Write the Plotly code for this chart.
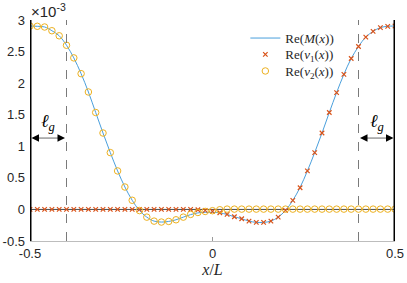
import numpy as np
import plotly.graph_objects as go

x_vals = [round(-0.5 + 0.02 * i, 2) for i in range(51)]

M_vals = [2.905, 2.90, 2.89, 2.83, 2.75, 2.60, 2.40, 2.15, 1.86, 1.535,
          1.21, 0.90, 0.61, 0.355, 0.145, -0.018, -0.122, -0.185, -0.20, -0.19,
          -0.164, -0.122, -0.082, -0.055, -0.045, -0.045,
          -0.055, -0.08, -0.116, -0.148, -0.185, -0.205, -0.205, -0.185, -0.122,
          -0.016, 0.143, 0.35, 0.61, 0.90, 1.21, 1.535, 1.85, 2.14, 2.39,
          2.58, 2.73, 2.82, 2.88, 2.90, 2.905]

v1_vals = [0.0] * 23 + [-0.005, -0.015, -0.03,
          -0.053, -0.079, -0.116, -0.148, -0.185, -0.206, -0.206, -0.185, -0.122,
          -0.016, 0.143, 0.344, 0.61, 0.90, 1.21, 1.535, 1.85, 2.14, 2.39,
          2.58, 2.73, 2.82, 2.88, 2.90, 2.905]

v2_vals = [2.905, 2.90, 2.889, 2.83, 2.75, 2.60, 2.40, 2.15, 1.86, 1.535,
           1.21, 0.90, 0.61, 0.355, 0.145, -0.018, -0.122, -0.185, -0.20, -0.19,
           -0.164, -0.122, -0.079, -0.048, -0.032, -0.02,
           -0.005] + [0.005] * 24

x_range = [-0.5, 0.5]
y_range = [-0.5, 3.0]
x_ticks = [-0.5, 0, 0.5]
x_ticklabels = ["-0.5", "0", "0.5"]
y_ticks = [-0.5, 0, 0.5, 1, 1.5, 2, 2.5, 3]
y_ticklabels = ["-0.5", "0", "0.5", "1", "1.5", "2", "2.5", "3"]
gap_x = 0.4
arrow_y = 1.13
label_y = 1.38

SANS = "Liberation Sans, Arial, sans-serif"
SERIF = "Liberation Serif, Times New Roman, serif"

fig = go.Figure()

# zero line
fig.add_trace(go.Scatter(x=x_range, y=[0, 0], mode="lines",
                         line=dict(color="#4a4a4a", width=1), showlegend=False,
                         hoverinfo="skip"))

fig.add_trace(go.Scatter(x=x_vals, y=M_vals, mode="lines", name="Re(<i>M</i>(<i>x</i>))",
                         legend="legend",
                         line=dict(color="#4a9fdc", width=1, shape="spline")))
fig.add_trace(go.Scatter(x=x_vals, y=v1_vals, mode="markers", name="Re(<i>v</i><sub>1</sub>(<i>x</i>))",
                         legend="legend2",
                         marker=dict(symbol="x-thin", size=4.5, color="#D95319",
                                     line=dict(color="#D95319", width=1.2))))
fig.add_trace(go.Scatter(x=x_vals, y=v2_vals, mode="markers", name="Re(<i>v</i><sub>2</sub>(<i>x</i>))",
                         legend="legend3",
                         marker=dict(symbol="circle-open", size=6.5, color="#EDB120",
                                     line=dict(color="#EDB120", width=1))))

# dashed gap lines
for gx in (-gap_x, gap_x):
    fig.add_shape(type="line", x0=gx, x1=gx, y0=y_range[0], y1=y_range[1],
                  xref="x", yref="y", line=dict(color="#7a7a7a", width=1, dash="dash"))
# thick boundary lines
for bx in x_range:
    fig.add_shape(type="line", x0=bx, x1=bx, y0=y_range[0], y1=y_range[1],
                  xref="x", yref="y", line=dict(color="black", width=3))

# arrows
for (a, b) in ((-0.5, -gap_x), (gap_x, 0.5)):
    fig.add_shape(type="line", x0=a + 0.012, x1=b - 0.012, y0=arrow_y, y1=arrow_y,
                  xref="x", yref="y", line=dict(color="#9a9a9a", width=1.5))
    for tip, tail in ((a, a + 0.02), (b, b - 0.02)):
        fig.add_annotation(x=tip, y=arrow_y, ax=tail, ay=arrow_y, xref="x", yref="y",
                           axref="x", ayref="y", showarrow=True, arrowhead=2,
                           arrowsize=1, arrowwidth=1.5, arrowcolor="black",
                           standoff=1.5, text="")
    fig.add_annotation(x=(a + b) / 2, y=label_y, xref="x", yref="y", showarrow=False,
                       text="<i>ℓ</i><sub><i>g</i></sub>",
                       font=dict(family=SERIF, size=18, color="black"))

# exponent
fig.add_annotation(x=0, y=1, xref="paper", yref="paper", xanchor="left", yanchor="bottom",
                   showarrow=False, text="×10<sup>-3</sup>", yshift=-2, xshift=-1,
                   font=dict(family=SANS, size=15, color="#262626"))

leg_common = dict(x=0.59, xanchor="left", yanchor="top", bgcolor="rgba(255,255,255,0)",
                  font=dict(family=SERIF, size=13, color="#262626"))

fig.update_layout(
    width=407, height=283,
    margin=dict(l=30, r=12, t=20, b=42),
    plot_bgcolor="white", paper_bgcolor="white",
    font=dict(family=SANS, size=13, color="#262626"),
    xaxis=dict(range=x_range, tickvals=x_ticks, ticktext=x_ticklabels, automargin=False,
               showgrid=False, zeroline=False, showline=True, linecolor="#bdbdbd",
               linewidth=1, ticks="inside", ticklen=4, tickcolor="#9a9a9a",
               title=dict(text="<i>x</i>/<i>L</i>", standoff=4,
                          font=dict(family=SERIF, size=16, color="#262626"))),
    yaxis=dict(range=y_range, tickvals=y_ticks, ticktext=y_ticklabels, automargin=False,
               showgrid=False, zeroline=False, showline=False,
               ticks="", ticklabelstandoff=4),
    legend=dict(y=0.986, **leg_common),
    legend2=dict(y=0.912, **leg_common),
    legend3=dict(y=0.837, **leg_common),
)

fig.write_html("out.html", config={"displayModeBar": False},
               post_script="document.body.style.margin='0';")
